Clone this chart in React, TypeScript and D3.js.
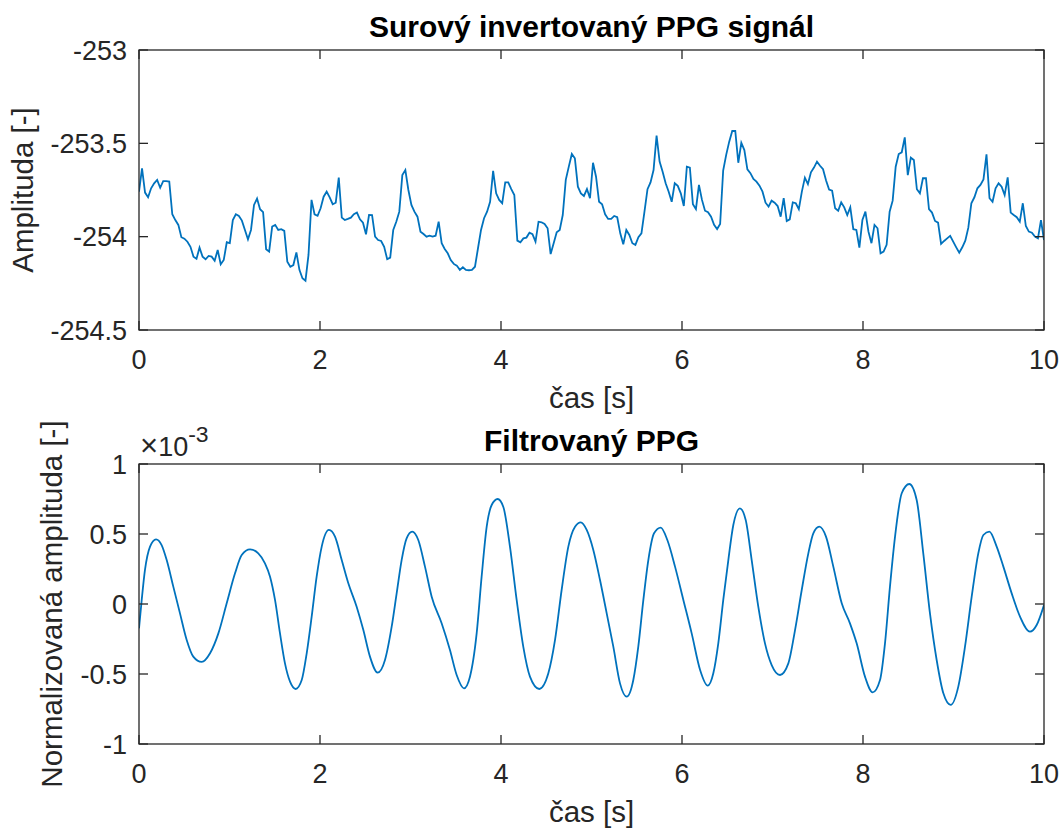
import React from "react";
import * as d3 from "d3";

// surovy signal, 300 vzorku (0..10 s)
const rawSignal = [
  -253.759, -253.634, -253.764, -253.789, -253.741, -253.714, -253.696, -253.738, -253.702, -253.702,
  -253.705, -253.88, -253.911, -253.937, -254.003, -254.011, -254.027, -254.054, -254.107, -254.118,
  -254.059, -254.107, -254.121, -254.103, -254.107, -254.129, -254.071, -254.148, -254.125, -254.03,
  -254.035, -253.911, -253.88, -253.889, -253.914, -253.964, -254.014, -253.964, -253.83, -253.796,
  -253.853, -253.869, -254.067, -254.08, -253.946, -253.937, -253.964, -253.96, -253.969, -254.134,
  -254.161, -254.152, -254.084, -254.178, -254.223, -254.236, -254.098, -253.803, -253.88, -253.888,
  -253.848, -253.786, -253.759, -253.789, -253.826, -253.818, -253.684, -253.898, -253.911, -253.905,
  -253.898, -253.88, -253.871, -253.907, -253.925, -253.987, -253.884, -253.885, -254.0, -254.018,
  -254.023, -254.054, -254.121, -254.112, -253.964, -253.92, -253.866, -253.67, -253.643, -253.75,
  -253.83, -253.866, -253.893, -253.973, -253.986, -254.0, -253.995, -254.0, -253.995, -253.92,
  -254.035, -254.066, -254.089, -254.125, -254.146, -254.155, -254.178, -254.164, -254.178, -254.18,
  -254.178, -254.161, -254.062, -253.964, -253.901, -253.866, -253.813, -253.648, -253.768, -253.803,
  -253.821, -253.709, -253.709, -253.745, -253.777, -254.021, -254.03, -254.009, -254.005, -253.979,
  -253.987, -254.027, -253.92, -253.923, -253.932, -253.955, -254.093, -254.035, -253.976, -253.964,
  -253.884, -253.696, -253.625, -253.557, -253.58, -253.732, -253.768, -253.782, -253.745, -253.794,
  -253.604, -253.679, -253.813, -253.826, -253.88, -253.905, -253.905, -253.889, -253.896, -253.982,
  -254.041, -253.964, -253.991, -254.035, -254.044, -254.003, -253.982, -253.866, -253.746, -253.709,
  -253.643, -253.459, -253.598, -253.652, -253.714, -253.759, -253.813, -253.714, -253.728, -253.768,
  -253.836, -253.625, -253.63, -253.826, -253.852, -253.723, -253.803, -253.861, -253.869, -253.893,
  -253.937, -253.959, -253.932, -253.646, -253.562, -253.491, -253.434, -253.434, -253.604, -253.497,
  -253.536, -253.639, -253.66, -253.691, -253.705, -253.727, -253.759, -253.818, -253.839, -253.807,
  -253.818, -253.836, -253.893, -253.794, -253.916, -253.907, -253.816, -253.821, -253.853, -253.759,
  -253.684, -253.718, -253.655, -253.63, -253.598, -253.62, -253.639, -253.699, -253.748, -253.754,
  -253.848, -253.861, -253.816, -253.843, -253.884, -253.843, -253.96, -253.964, -254.059, -253.911,
  -253.866, -253.973, -254.035, -253.937, -253.955, -254.089, -254.08, -254.044, -253.866, -253.807,
  -253.625, -253.557, -253.548, -253.468, -253.67, -253.577, -253.589, -253.746, -253.768, -253.687,
  -253.687, -253.853, -253.871, -253.916, -253.925, -254.039, -254.023, -254.009, -253.996, -254.027,
  -254.057, -254.086, -254.057, -254.021, -253.952, -253.821, -253.789, -253.741, -253.723, -253.693,
  -253.559, -253.794, -253.813, -253.741, -253.714, -253.732, -253.777, -253.682, -253.871, -253.884,
  -253.896, -253.92, -253.821, -253.943, -253.973, -253.979, -254.0, -254.009, -253.911, -254.018,
];

// filtrovany signal (x 1e-3), odecteno v lomovych bodech
const filtTime = [
  0, 0.03, 0.066, 0.122, 0.188, 0.25, 0.306, 0.379, 0.453, 0.527, 0.6, 0.693, 0.785, 0.877, 0.969,
  1.061, 1.135, 1.227, 1.318, 1.392, 1.448, 1.503, 1.558, 1.613, 1.669, 1.731, 1.798, 1.853, 1.908,
  1.963, 2.019, 2.099, 2.166, 2.24, 2.313, 2.405, 2.479, 2.552, 2.637, 2.718, 2.792, 2.847, 2.902,
  2.957, 3.019, 3.086, 3.16, 3.234, 3.344, 3.436, 3.51, 3.591, 3.657, 3.731, 3.786, 3.842, 3.897,
  3.963, 4.025, 4.099, 4.173, 4.246, 4.32, 4.423, 4.523, 4.597, 4.67, 4.744, 4.818, 4.881, 4.947,
  5.02, 5.094, 5.168, 5.241, 5.315, 5.389, 5.462, 5.517, 5.573, 5.628, 5.691, 5.765, 5.838, 5.923,
  6.015, 6.107, 6.2, 6.284, 6.346, 6.401, 6.456, 6.512, 6.567, 6.64, 6.704, 6.77, 6.843, 6.917,
  6.991, 7.083, 7.175, 7.249, 7.323, 7.396, 7.451, 7.517, 7.591, 7.672, 7.765, 7.856, 7.93, 8.022,
  8.107, 8.188, 8.243, 8.298, 8.354, 8.428, 8.512, 8.593, 8.666, 8.74, 8.814, 8.888, 8.969, 9.053,
  9.127, 9.201, 9.274, 9.33, 9.396, 9.477, 9.551, 9.643, 9.735, 9.845, 9.919, 10.0,
];
const filtValue = [
  -0.174, 0.029, 0.243, 0.41, 0.462, 0.421, 0.314, 0.124, -0.067, -0.257, -0.376, -0.414, -0.352,
  -0.21, 0.005, 0.219, 0.35, 0.39, 0.362, 0.29, 0.195, 0.029, -0.21, -0.424, -0.555, -0.607, -0.543,
  -0.352, -0.09, 0.195, 0.41, 0.529, 0.481, 0.314, 0.148, -0.019, -0.186, -0.376, -0.49, -0.4,
  -0.162, 0.076, 0.314, 0.469, 0.517, 0.457, 0.267, 0.052, -0.138, -0.329, -0.507, -0.602, -0.519,
  -0.21, 0.195, 0.552, 0.707, 0.75, 0.695, 0.41, 0.029, -0.305, -0.519, -0.607, -0.495, -0.257, 0.1,
  0.41, 0.552, 0.583, 0.529, 0.386, 0.171, -0.067, -0.305, -0.567, -0.662, -0.543, -0.305, 0.029,
  0.314, 0.505, 0.545, 0.457, 0.267, 0.029, -0.21, -0.471, -0.583, -0.495, -0.281, 0.029, 0.314,
  0.564, 0.683, 0.6, 0.314, -0.019, -0.281, -0.436, -0.507, -0.424, -0.186, 0.1, 0.362, 0.505,
  0.552, 0.481, 0.267, 0.005, -0.138, -0.281, -0.519, -0.631, -0.543, -0.281, 0.124, 0.481, 0.791,
  0.857, 0.743, 0.362, -0.067, -0.4, -0.638, -0.721, -0.59, -0.305, 0.052, 0.362, 0.493, 0.517,
  0.41, 0.267, 0.076, -0.09, -0.198, -0.15, -0.007,
];

const xTicks = [0, 2, 4, 6, 8, 10];
const rawTicks = [-253, -253.5, -254, -254.5];
const filtTicks = [1, 0.5, 0, -0.5, -1];

const W = 1062;
const H = 830;
const X0 = 139;
const X1 = 1044;
const FONT = "'Liberation Sans', Arial, Helvetica, sans-serif";
const AX = "#262626";
const LINE = "#0072BD";
const TICK_FS = 27;
const LABEL_FS = 29.5;
const TITLE_FS = 30;

const Panel = (props: any) => {
  const { top, bottom, yDomain, yTicks, data, curve, title, ylabel, ylabelX, clipId, exponent } = props;
  const x = d3.scaleLinear().domain([0, 10]).range([X0, X1]);
  const y = d3.scaleLinear().domain(yDomain).range([bottom, top]);
  const line = d3
    .line<any>()
    .x((d) => x(d[0]))
    .y((d) => y(d[1]))
    .curve(curve);
  const tl = 9;
  return (
    <g>
      <defs>
        <clipPath id={clipId}>
          <rect x={X0} y={top} width={X1 - X0} height={bottom - top} />
        </clipPath>
      </defs>
      <path d={line(data) as string} fill="none" stroke={LINE} strokeWidth={1.8} clipPath={`url(#${clipId})`} />
      <rect x={X0} y={top} width={X1 - X0} height={bottom - top} fill="none" stroke={AX} strokeWidth={1.3} />
      {xTicks.map((t) => (
        <g key={"x" + t}>
          <line x1={x(t)} x2={x(t)} y1={bottom} y2={bottom - tl} stroke={AX} strokeWidth={1.3} />
          <line x1={x(t)} x2={x(t)} y1={top} y2={top + tl} stroke={AX} strokeWidth={1.3} />
          <text x={x(t)} y={bottom + 39} textAnchor="middle" fontSize={TICK_FS} fill={AX}>
            {t}
          </text>
        </g>
      ))}
      {yTicks.map((t: number) => (
        <g key={"y" + t}>
          <line x1={X0} x2={X0 + tl} y1={y(t)} y2={y(t)} stroke={AX} strokeWidth={1.3} />
          <line x1={X1} x2={X1 - tl} y1={y(t)} y2={y(t)} stroke={AX} strokeWidth={1.3} />
          <text x={127} y={y(t)} dy="0.36em" textAnchor="end" fontSize={TICK_FS} fill={AX}>
            {t}
          </text>
        </g>
      ))}
      {exponent && (
        <text x={140} y={456} fontSize={TICK_FS} fill={AX}>
          <tspan fontSize={TICK_FS * 1.15}>×</tspan>
          10
          <tspan dy={-14} fontSize={TICK_FS * 0.85}>
            -3
          </tspan>
        </text>
      )}
      <text x={(X0 + X1) / 2} y={top - 13} textAnchor="middle" fontSize={TITLE_FS} fontWeight="bold" fill="#000">
        {title}
      </text>
      <text x={(X0 + X1) / 2} y={bottom + 78} textAnchor="middle" fontSize={LABEL_FS} fill={AX}>
        čas [s]
      </text>
      <text
        transform={`translate(${ylabelX},${(top + bottom) / 2}) rotate(-90)`}
        textAnchor="middle"
        fontSize={LABEL_FS}
        fill={AX}
      >
        {ylabel}
      </text>
    </g>
  );
};

const App = () => {
  const n = rawSignal.length;
  const rawData = rawSignal.map((v, i) => [(i * 10) / (n - 1), v]);
  const filtData = filtTime.map((t, i) => [t, filtValue[i]]);
  return (
    <svg
      width={W}
      height={H}
      style={{ position: "absolute", left: 0, top: 0, background: "#fff" }}
      fontFamily={FONT}
    >
      <rect width={W} height={H} fill="#fff" />
      <Panel
        top={50}
        bottom={330}
        yDomain={[-254.5, -253]}
        yTicks={rawTicks}
        data={rawData}
        curve={d3.curveLinear}
        title="Surový invertovaný PPG signál"
        ylabel="Amplituda [-]"
        ylabelX={33}
        clipId="clipRaw"
      />
      <Panel
        top={464}
        bottom={744}
        yDomain={[-1, 1]}
        yTicks={filtTicks}
        data={filtData}
        curve={d3.curveMonotoneX}
        title="Filtrovaný PPG"
        ylabel="Normalizovaná amplituda [-]"
        ylabelX={62}
        clipId="clipFilt"
        exponent
      />
    </svg>
  );
};

export default App;
